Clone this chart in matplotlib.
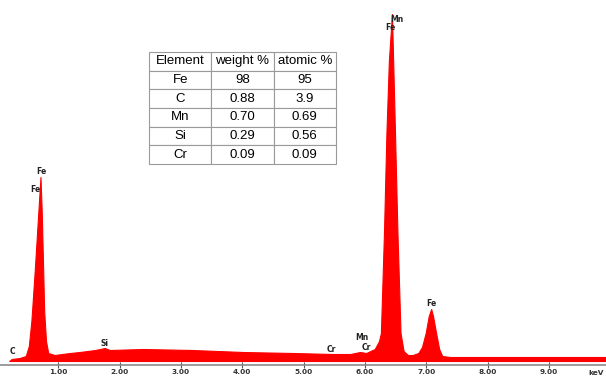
import matplotlib
matplotlib.use("Agg")
import matplotlib.pyplot as plt

# EDS spectrum (energy in keV, counts in arbitrary units)
energy = [0.20, 0.24, 0.37, 0.47, 0.52, 0.563, 0.617, 0.666, 0.71, 0.73, 0.754,
          0.77, 0.80, 0.836, 0.94, 1.19, 1.35, 1.60, 1.76, 1.84, 2.38, 3.19,
          4.01, 4.83, 5.48, 5.76, 5.92, 6.02, 6.16, 6.23, 6.26, 6.31, 6.35,
          6.39, 6.44, 6.46, 6.49, 6.53, 6.58, 6.63, 6.70, 6.78, 6.87, 6.93,
          6.99, 7.04, 7.08, 7.11, 7.16, 7.21, 7.26, 7.39, 8.20, 9.93]
counts = [0, 2, 3, 5, 15, 41, 91, 140, 184, 150, 91,
          50, 20, 8, 6, 8, 9, 11, 13, 11, 12, 11,
          9, 8, 7, 7, 9, 8, 12, 20, 28, 128, 228,
          300, 347, 300, 228, 128, 28, 10, 6, 6, 8, 14,
          28, 45, 52, 45, 28, 12, 5, 4, 4, 4]

# peak labels: text, energy, counts
peak_labels = [("C", 0.26, 10), ("Fe", 0.73, 189), ("Fe", 0.63, 171),
               ("Si", 1.76, 18), ("Cr", 5.45, 12), ("Mn", 5.95, 23),
               ("Cr", 6.02, 14), ("Mn", 6.52, 342), ("Fe", 6.42, 333),
               ("Fe", 7.08, 58)]

tick_vals = [1, 2, 3, 4, 5, 6, 7, 8, 9]
tick_labels = ["1.00", "2.00", "3.00", "4.00", "5.00", "6.00", "7.00", "8.00", "9.00"]

table_header = ["Element", "weight %", "atomic %"]
table_rows = [["Fe", "98", "95"],
              ["C", "0.88", "3.9"],
              ["Mn", "0.70", "0.69"],
              ["Si", "0.29", "0.56"],
              ["Cr", "0.09", "0.09"]]

fig = plt.figure(figsize=(6.06, 3.78), dpi=100)
ax = fig.add_axes([0, 13 / 378, 1, 365 / 378])
ax.fill_between(energy, counts, 0, color="#ff0000", linewidth=0.8, edgecolor="#ff0000")
ax.set_xlim(0.05, 9.93)
ax.set_ylim(-4, 361)

for s in ["top", "right", "left"]:
    ax.spines[s].set_visible(False)
ax.spines["bottom"].set_color("#8a8a8a")
ax.spines["bottom"].set_linewidth(1.2)
ax.set_yticks([])
ax.set_xticks(tick_vals)
ax.set_xticklabels(tick_labels, fontsize=5.3, fontweight="bold", color="#333333")
ax.tick_params(axis="x", direction="inout", length=4, width=0.8, color="#555555", pad=1)
fig.text(604 / 606, 2 / 378, "keV", fontsize=5.3, fontweight="bold", color="#333333",
         ha="right", va="bottom")

for txt, e, c in peak_labels:
    ax.text(e, c, txt, fontsize=5.5, fontweight="bold", color="#222222",
            ha="center", va="center")

tax = fig.add_axes([149 / 606, (378 - 164) / 378, 187 / 606, 112 / 378])
tax.axis("off")
tbl = tax.table(cellText=table_rows, colLabels=table_header, cellLoc="center",
                bbox=[0, 0, 1, 1])
tbl.auto_set_font_size(False)
for (r, cidx), cell in tbl.get_celld().items():
    cell.set_edgecolor("#9a9a9a")
    cell.set_linewidth(0.8)
    cell.get_text().set_fontsize(9.5)
    cell.get_text().set_fontfamily("Liberation Sans")

fig.savefig("out.png", dpi=100)
